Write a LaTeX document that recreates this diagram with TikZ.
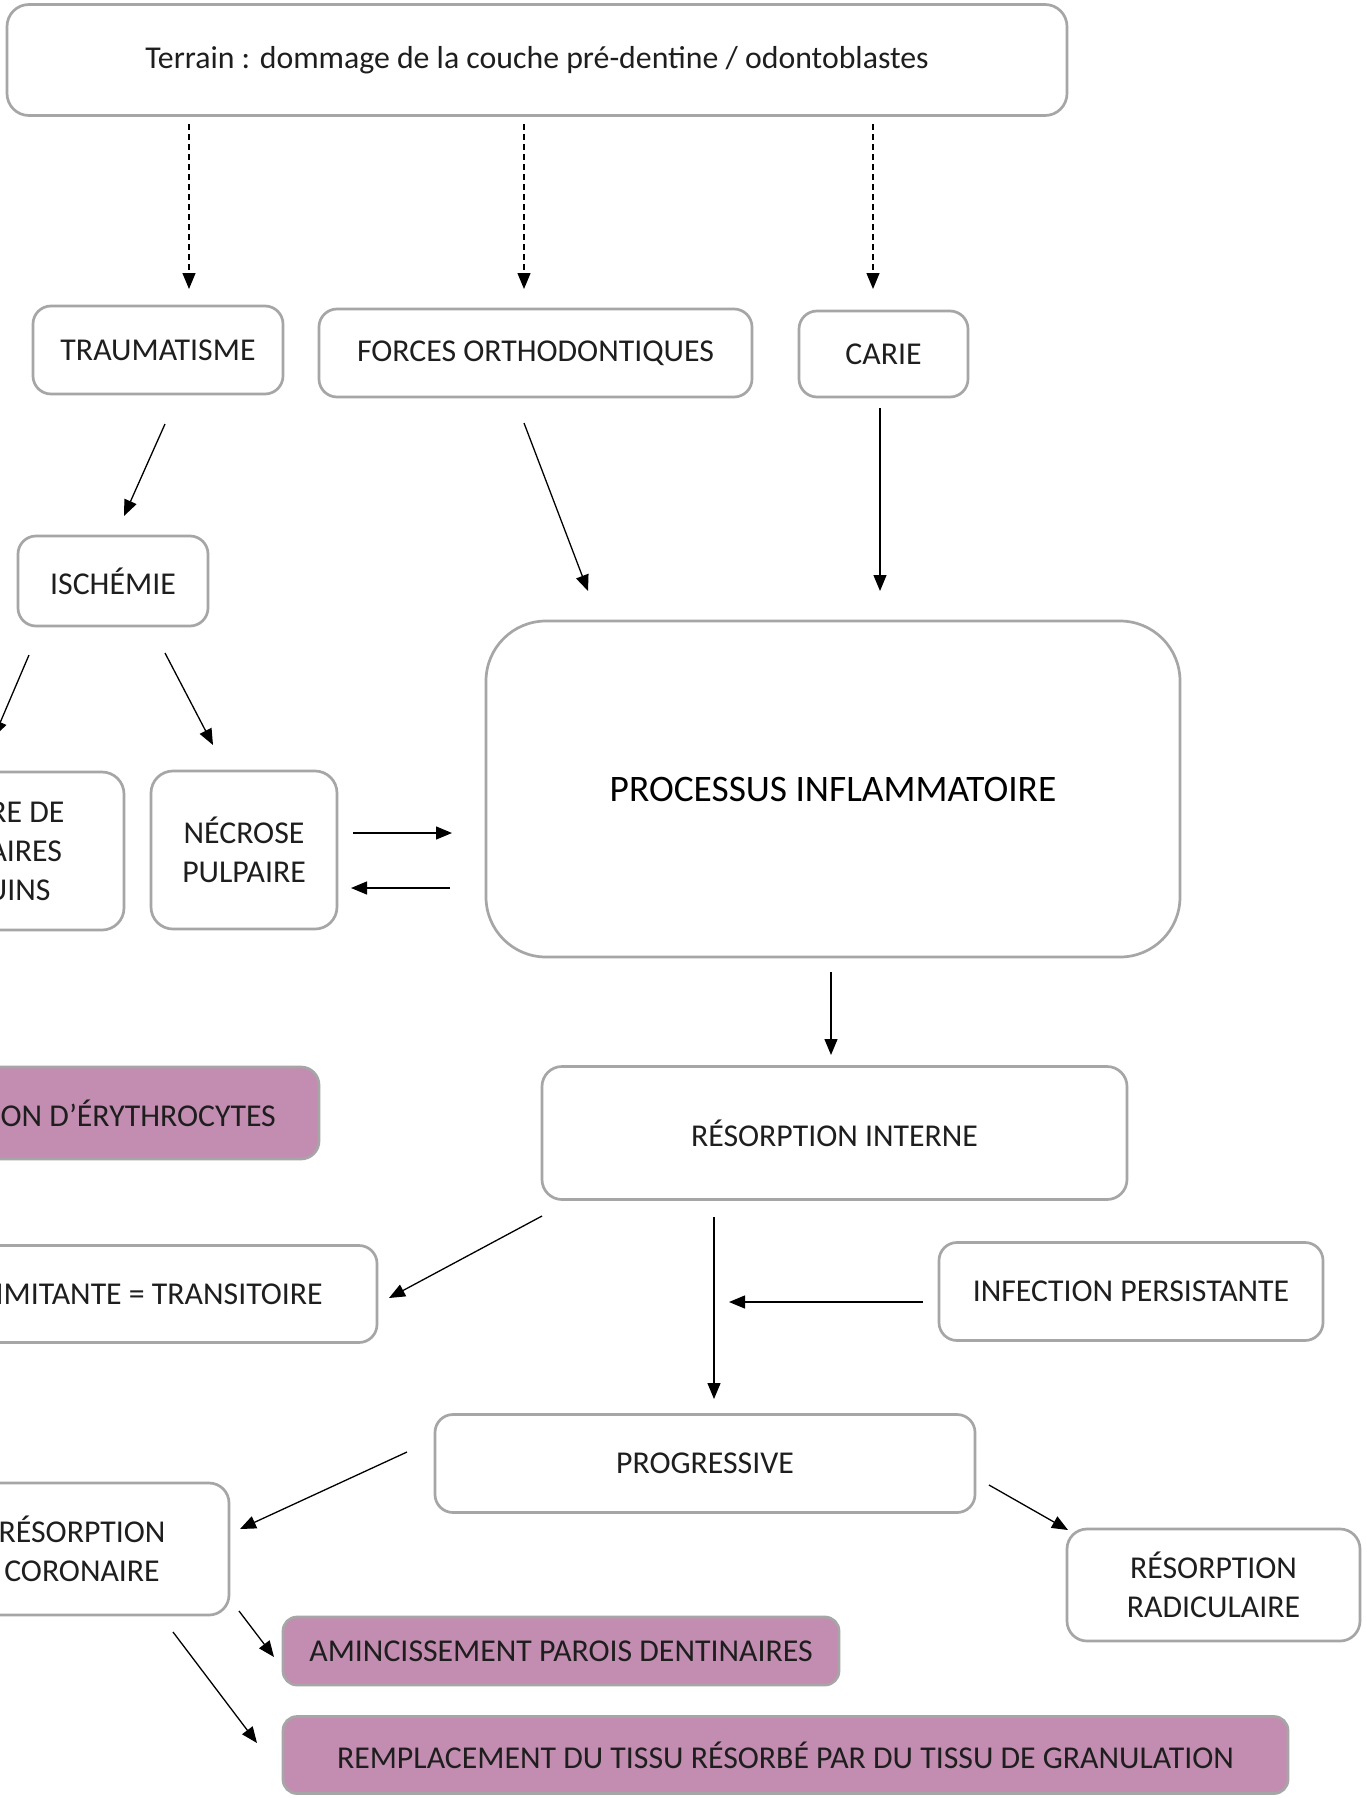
\documentclass[tikz,border=0pt]{standalone}
\usepackage{fontspec}
\setmainfont{Carlito}
\usetikzlibrary{arrows.meta,calc}
\definecolor{boxgray}{RGB}{166,166,166}
\definecolor{pinkfill}{RGB}{194,141,176}
\definecolor{txt}{RGB}{30,30,30}
\tikzset{
  box/.style={draw=boxgray, line width=2.7pt, rounded corners=18pt, inner sep=0pt, outer sep=0pt,
    align=center, text=txt, font=\fontsize{31.8}{39}\selectfont},
  pinkbox/.style={box, fill=pinkfill},
  arr/.style={-{Triangle[length=16pt,width=13pt]}, line width=1.3pt, black},
  darr/.style={arr, dash pattern=on 6pt off 4pt},
}
\begin{document}
\begin{tikzpicture}[x=1pt,y=-1pt]
\useasboundingbox (0,0) rectangle (1367,1798);
\fill[white] (0,0) rectangle (1367,1798);

\node[box, rounded corners=22pt, minimum width=1060pt, minimum height=111pt] (top) at (537,60) {Terrain : dommage de la couche pré-dentine / odontoblastes};
\node[box, minimum width=250pt, minimum height=88pt] (trau) at (158,350) {TRAUMATISME};
\node[box, minimum width=433pt, minimum height=88pt] (forc) at (535.5,353) {FORCES ORTHODONTIQUES};
\node[box, minimum width=169pt, minimum height=86pt] (carie) at (883.5,354) {CARIE};
\node[box, minimum width=190pt, minimum height=90pt] (isch) at (113,581) {ISCHÉMIE};
\node[box, rounded corners=22pt, minimum width=284pt, minimum height=158pt] (rupt) at (-18,851) {RUPTURE DE\\CAPILLAIRES\\SANGUINS};
\node[box, rounded corners=22pt, minimum width=186pt, minimum height=158pt] (necr) at (244,850) {NÉCROSE\\PULPAIRE};
\node[box, rounded corners=60pt, minimum width=694pt, minimum height=336pt, text=black, font=\fontsize{37.4}{44}\selectfont] (proc) at (833,789) {PROCESSUS INFLAMMATOIRE};
\node[pinkbox, minimum width=532pt, minimum height=92pt] (extr) at (53,1113) {EXTRAVASATION D’ÉRYTHROCYTES};
\node[box, rounded corners=20pt, minimum width=585pt, minimum height=133pt] (rint) at (834.5,1133) {RÉSORPTION INTERNE};
\node[box, minimum width=523pt, minimum height=97pt] (auto) at (115.5,1294) {AUTOLIMITANTE = TRANSITOIRE};
\node[box, minimum width=384pt, minimum height=98pt] (infe) at (1131,1291.5) {INFECTION PERSISTANTE};
\node[box, minimum width=540pt, minimum height=98pt] (prog) at (705,1463.5) {PROGRESSIVE};
\node[box, rounded corners=20pt, minimum width=294pt, minimum height=132pt] (coro) at (82,1549) {RÉSORPTION\\CORONAIRE};
\node[box, rounded corners=20pt, minimum width=293pt, minimum height=112pt] (radi) at (1213.5,1585) {RÉSORPTION\\RADICULAIRE};
\node[pinkbox, rounded corners=14pt, minimum width=556pt, minimum height=68pt] (amin) at (561,1651) {AMINCISSEMENT PAROIS DENTINAIRES};
\node[pinkbox, rounded corners=14pt, minimum width=1005pt, minimum height=77pt] (remp) at (785.5,1755) {REMPLACEMENT DU TISSU RÉSORBÉ PAR DU TISSU DE GRANULATION};

\coordinate (join) at ($(prog)+(24,-161.5)$);

\draw[darr] ($(top)+(-348,64)$) -- ($(trau)+(31,-61)$);
\draw[darr] ($(top)+(-13,64)$) -- ($(forc)+(-11.5,-64)$);
\draw[darr] ($(top)+(336,64)$) -- ($(carie)+(-10.5,-65)$);
\draw[arr] ($(trau)+(7,74)$) -- ($(isch)+(11,-65)$);
\draw[arr] ($(forc)+(-11.5,70)$) -- ($(proc)+(-245,-198)$);
\draw[arr] ($(carie)+(-3.5,54)$) -- ($(proc)+(47,-198)$);
\draw[arr] ($(isch)+(-84,74)$) -- ($(rupt)+(12,-114)$);
\draw[arr] ($(isch)+(52,72)$) -- ($(necr)+(-31,-105)$);
\draw[arr] ($(necr)+(109,-17)$) -- ($(proc)+(-381,44)$);
\draw[arr] ($(proc)+(-383,99)$) -- ($(necr)+(107,38)$);
\draw[arr] ($(proc)+(-2,183)$) -- ($(rint)+(-3.5,-78)$);
\draw[arr] ($(rint)+(-292.5,83)$) -- ($(auto)+(273.5,4)$);
\draw[arr] ($(rint)+(-120.5,84)$) -- ($(prog)+(9,-64.5)$);
\draw[arr] ($(infe)+(-208,10.5)$) -- (join);
\draw[arr] ($(prog)+(-298,-11.5)$) -- ($(coro)+(158,-20)$);
\draw[arr] ($(prog)+(284,21.5)$) -- ($(radi)+(-145.5,-55)$);
\draw[arr] ($(coro)+(157,62)$) -- ($(amin)+(-287,6)$);
\draw[arr] ($(coro)+(91,83)$) -- ($(remp)+(-528.5,-12)$);
\end{tikzpicture}
\end{document}
